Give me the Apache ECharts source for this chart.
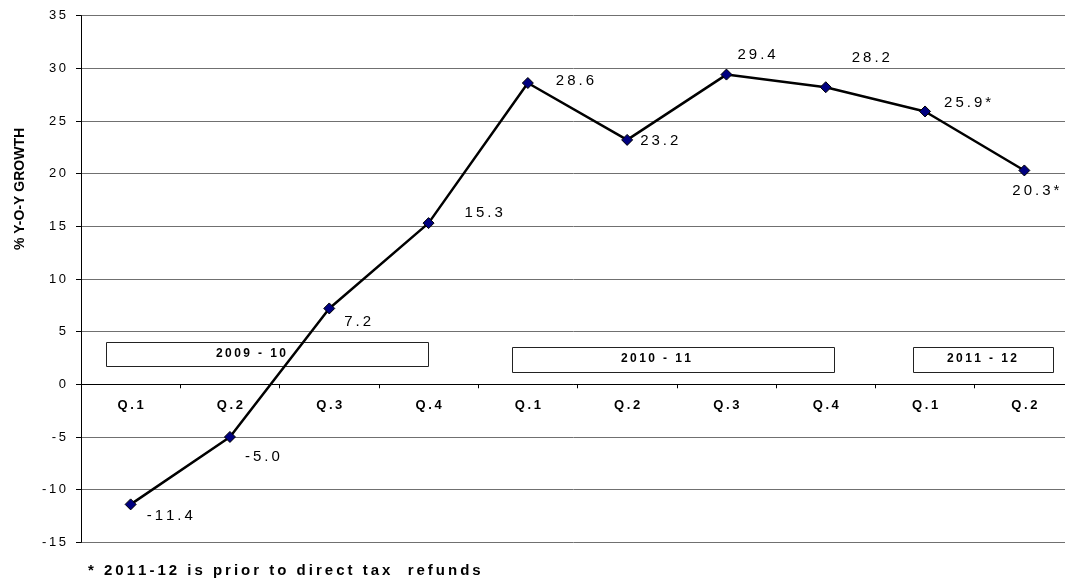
<!DOCTYPE html>
<html>
<head>
<meta charset="utf-8">
<script src="https://cdn.jsdelivr.net/npm/echarts@6/dist/echarts.min.js"></script>
<style>
  html, body { margin: 0; padding: 0; background: #fff; }
  #chart { width: 1065px; height: 582px; }
</style>
</head>
<body>
<div id="chart"></div>
<script>
// Quarterly year-on-year growth, 2009-10 to 2011-12
const quarters = ['Q.1', 'Q.2', 'Q.3', 'Q.4', 'Q.1', 'Q.2', 'Q.3', 'Q.4', 'Q.1', 'Q.2'];
const growth = [-11.4, -5.0, 7.2, 15.3, 28.6, 23.2, 29.4, 28.2, 25.9, 20.3];
const beforeRefunds = [false, false, false, false, false, false, false, false, true, true];
const yMin = -15;
const yMax = 35;
const yStep = 5;
const fiscalYears = ['2009 - 10', '2010 - 11', '2011 - 12'];
const axisTitle = '% Y-O-Y GROWTH';
const footnote = '* 2011-12 is prior to direct tax  refunds';

const FONT = '"Liberation Sans", Arial, Helvetica, sans-serif';
// widen text a little with thin spaces between characters
const spaced = s => Array.from(String(s)).join('\u2009');

const GRID_TOP = 15.6;
const GRID_BOTTOM = 39.7;
const CHART_H = 582;
// the category axis sits on the zero line of the value axis
const plotH = CHART_H - GRID_TOP - GRID_BOTTOM;
const zeroOffset = -plotH * (0 - yMin) / (yMax - yMin);

// label placement relative to each point (dx, dy)
const labelOffsets = [[16, 11], [15, 20], [15, 13], [36, -10], [28, -2],
                      [13, 1], [11, -20], [26, -29], [19, -9], [-12, 20]];

// fiscal-year boxes: [x, y, w, h, textX, textY]
const yearBoxes = [
  [106, 342, 322, 24, 251, 354],
  [512, 347, 322, 25, 656, 359],
  [913, 347, 140, 25, 982, 359]
];

const chart = echarts.init(document.getElementById('chart'), null, { renderer: 'canvas' });

const graphics = [
  {
    type: 'text', x: 20, y: 189, rotation: Math.PI / 2, z: 10,
    style: { text: axisTitle, font: 'bold 14px ' + FONT, fill: '#000',
             textAlign: 'center', textVerticalAlign: 'middle' }
  },
  {
    type: 'text', x: 88, y: 571, z: 10,
    style: { text: spaced(footnote), font: 'bold 15px ' + FONT, fill: '#000',
             textAlign: 'left', textVerticalAlign: 'middle' }
  }
];
fiscalYears.forEach((name, i) => {
  const b = yearBoxes[i];
  graphics.push({
    type: 'rect', z: 1,
    shape: { x: b[0] + 0.5, y: b[1] + 0.5, width: b[2], height: b[3] },
    style: { fill: '#fff', stroke: '#222', lineWidth: 1 }
  });
  graphics.push({
    type: 'text', z: 1, x: b[4], y: b[5],
    style: { text: spaced(name), font: 'bold 12px ' + FONT, fill: '#000',
             textAlign: 'center', textVerticalAlign: 'middle' }
  });
});

chart.setOption({
  animation: false,
  backgroundColor: '#fff',
  grid: { left: 81, right: -9, top: GRID_TOP, bottom: GRID_BOTTOM, containLabel: false, outerBoundsMode: 'none' },
  xAxis: {
    type: 'category',
    data: quarters,
    boundaryGap: true,
    offset: zeroOffset,
    axisLine: { onZero: false, lineStyle: { color: '#000', width: 1 } },
    axisTick: { show: true, length: 4, lineStyle: { color: '#000' } },
    axisLabel: { interval: 0, margin: 15, fontSize: 13, fontWeight: 'bold', fontFamily: FONT,
                 color: '#000', formatter: v => spaced(v) },
    splitLine: { show: false }
  },
  yAxis: {
    type: 'value',
    min: yMin, max: yMax, interval: yStep,
    axisLine: { show: true, lineStyle: { color: '#000', width: 1 } },
    axisTick: { show: true, length: 5, lineStyle: { color: '#000' } },
    axisLabel: { margin: 15, fontSize: 13, fontFamily: FONT, color: '#000',
                 formatter: v => spaced(v) },
    splitLine: { show: true, lineStyle: { color: '#707070', width: 1 } }
  },
  series: [{
    type: 'line',
    data: growth.map((v, i) => ({ value: v, label: { offset: labelOffsets[i] } })),
    symbol: 'diamond',
    symbolSize: 11,
    itemStyle: { color: '#000080', borderColor: '#000', borderWidth: 1 },
    lineStyle: { color: '#000', width: 2.5 },
    label: {
      show: true, position: 'inside', distance: 0,
      align: 'left', verticalAlign: 'middle',
      fontSize: 15, fontFamily: FONT, color: '#000',
      formatter: p => spaced(p.value.toFixed(1) + (beforeRefunds[p.dataIndex] ? '*' : ''))
    },
    emphasis: { disabled: true },
    z: 5
  }],
  graphic: graphics
});
</script>
</body>
</html>
